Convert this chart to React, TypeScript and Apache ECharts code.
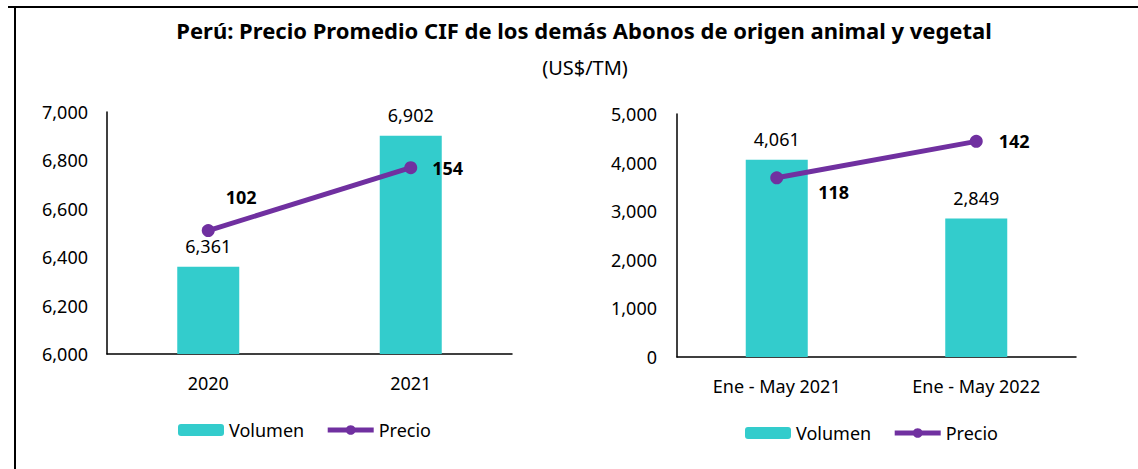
import React, { useEffect, useRef } from "react";
import * as echarts from "echarts";

const titleText = "Perú: Precio Promedio CIF de los demás Abonos de origen animal y vegetal";
const subtitleText = "(US$/TM)";

const periodsAnnual = ["2020", "2021"];
const volumenAnnual = [6361, 6902];
const precioAnnual = [102, 154];

const periodsPartial = ["Ene - May 2021", "Ene - May 2022"];
const volumenPartial = [4061, 2849];
const precioPartial = [118, 142];

const seriesNames = ["Volumen", "Precio"];

const FONT = "'Noto Sans', sans-serif";
const BAR_COLOR = "#33CCCC";
const LINE_COLOR = "#7030A0";
const TEXT_COLOR = "#000000";

const fmt = (v: number) => Number(v).toLocaleString("en-US");

export default function App() {
  const ref = useRef<HTMLDivElement>(null);

  useEffect(() => {
    if (!ref.current) return;
    const chart = echarts.init(ref.current, undefined, { renderer: "svg" });

    const precioLabelOffsets = [
      [[6, -34], [10, 0]],
      [[30, 14], [11, 0]],
    ];

    const lineData = (vals: number[], idx: number) =>
      vals.map((v, i) => ({
        value: v,
        label: { offset: precioLabelOffsets[idx][i] },
      }));

    const axisLineStyle = { show: true, lineStyle: { color: "#000", width: 1.5 } };

    const legendCommon = {
      data: seriesNames,
      itemWidth: 46,
      itemHeight: 12,
      itemGap: 21,
      lineStyle: { width: 5 },
      textStyle: { fontFamily: FONT, fontSize: 18, color: TEXT_COLOR },
    };

    chart.setOption({
      animation: false,
      backgroundColor: "#fff",
      textStyle: { fontFamily: FONT },
      graphic: [
        { type: "line", shape: { x1: 8, y1: 7, x2: 1138, y2: 7 }, style: { stroke: "#000", lineWidth: 2 } },
        { type: "line", shape: { x1: 15, y1: 7, x2: 15, y2: 469 }, style: { stroke: "#000", lineWidth: 2 } },
        {
          type: "text",
          x: 584,
          y: 30,
          style: {
            text: titleText,
            fontFamily: FONT,
            fontSize: 22,
            fontWeight: "bold",
            fill: TEXT_COLOR,
            textAlign: "center",
            textVerticalAlign: "middle",
          },
        },
        {
          type: "text",
          x: 585,
          y: 67,
          style: {
            text: subtitleText,
            fontFamily: FONT,
            fontSize: 20,
            fill: TEXT_COLOR,
            textAlign: "center",
            textVerticalAlign: "middle",
          },
        },
      ],
      legend: [
        { ...legendCommon, left: 173, top: 416 },
        { ...legendCommon, left: 740, top: 419 },
      ],
      grid: [
        { left: 107, right: 1138 - 512, top: 112, bottom: 469 - 354 },
        { left: 677, right: 1138 - 1076, top: 114, bottom: 469 - 357 },
      ],
      xAxis: [
        {
          type: "category",
          gridIndex: 0,
          data: periodsAnnual,
          axisLine: axisLineStyle,
          axisTick: { show: false },
          axisLabel: { margin: 20, fontFamily: FONT, fontSize: 18, color: TEXT_COLOR },
        },
        {
          type: "category",
          gridIndex: 1,
          data: periodsPartial,
          axisLine: axisLineStyle,
          axisTick: { show: false },
          axisLabel: { margin: 20, fontFamily: FONT, fontSize: 18, color: TEXT_COLOR },
        },
      ],
      yAxis: [
        {
          type: "value",
          gridIndex: 0,
          min: 6000,
          max: 7000,
          interval: 200,
          axisLine: axisLineStyle,
          axisTick: { show: false },
          splitLine: { show: false },
          axisLabel: { margin: 19, fontFamily: FONT, fontSize: 18, color: TEXT_COLOR, formatter: fmt },
        },
        {
          type: "value",
          gridIndex: 0,
          min: 0,
          max: 200,
          show: false,
          splitLine: { show: false },
        },
        {
          type: "value",
          gridIndex: 1,
          min: 0,
          max: 5000,
          interval: 1000,
          axisLine: axisLineStyle,
          axisTick: { show: false },
          splitLine: { show: false },
          axisLabel: { margin: 20, fontFamily: FONT, fontSize: 18, color: TEXT_COLOR, formatter: fmt },
        },
        {
          type: "value",
          gridIndex: 1,
          min: 0,
          max: 160,
          show: false,
          splitLine: { show: false },
        },
      ],
      series: [
        {
          name: "Volumen",
          type: "bar",
          xAxisIndex: 0,
          yAxisIndex: 0,
          data: volumenAnnual,
          barWidth: 62,
          itemStyle: { color: BAR_COLOR },
          label: {
            show: true,
            position: "top",
            distance: 12,
            fontFamily: FONT,
            fontSize: 18,
            color: TEXT_COLOR,
            formatter: (p: any) => fmt(p.value),
          },
        },
        {
          name: "Precio",
          type: "line",
          xAxisIndex: 0,
          yAxisIndex: 1,
          data: lineData(precioAnnual, 0),
          symbol: "circle",
          symbolSize: 13,
          lineStyle: { color: LINE_COLOR, width: 5 },
          itemStyle: { color: LINE_COLOR },
          label: {
            show: true,
            position: "right",
            distance: 5,
            fontFamily: FONT,
            fontSize: 18,
            fontWeight: "bold",
            color: TEXT_COLOR,
          },
        },
        {
          name: "Volumen",
          type: "bar",
          xAxisIndex: 1,
          yAxisIndex: 2,
          data: volumenPartial,
          barWidth: 62,
          itemStyle: { color: BAR_COLOR },
          label: {
            show: true,
            position: "top",
            distance: 12,
            fontFamily: FONT,
            fontSize: 18,
            color: TEXT_COLOR,
            formatter: (p: any) => fmt(p.value),
          },
        },
        {
          name: "Precio",
          type: "line",
          xAxisIndex: 1,
          yAxisIndex: 3,
          data: lineData(precioPartial, 1),
          symbol: "circle",
          symbolSize: 13,
          lineStyle: { color: LINE_COLOR, width: 5 },
          itemStyle: { color: LINE_COLOR },
          label: {
            show: true,
            position: "right",
            distance: 5,
            fontFamily: FONT,
            fontSize: 18,
            fontWeight: "bold",
            color: TEXT_COLOR,
          },
        },
      ],
    });

    return () => chart.dispose();
  }, []);

  return (
    <div
      ref={ref}
      style={{ position: "absolute", left: 0, top: 0, width: 1138, height: 469 }}
    />
  );
}
